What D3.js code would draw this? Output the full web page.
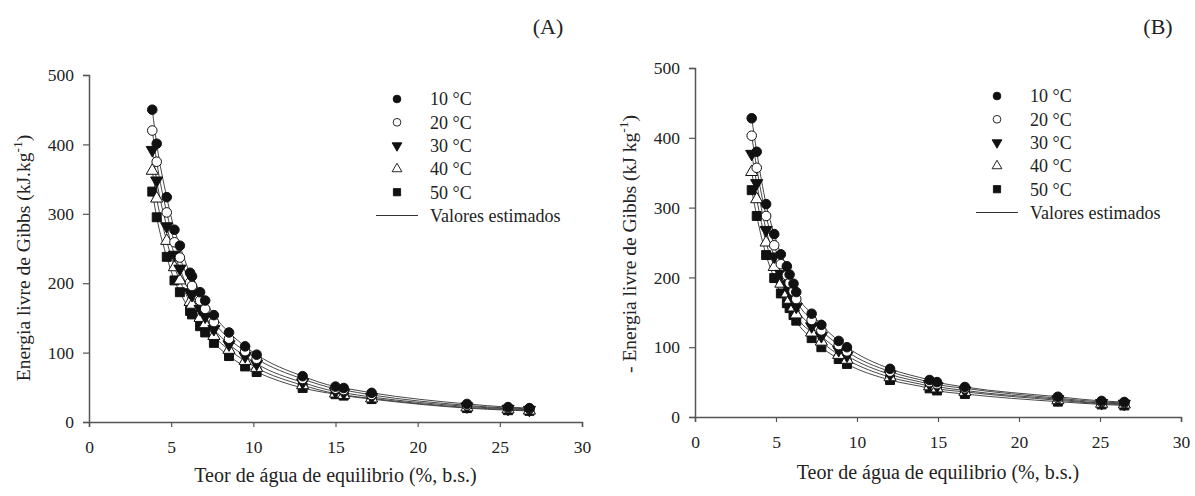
<!DOCTYPE html>
<html>
<head>
<meta charset="utf-8">
<script src="https://cdn.jsdelivr.net/npm/d3@7"></script>
<style>
  body { margin: 0; background: #fff; }
  text { font-family: "Liberation Serif", "Times New Roman", serif; fill: #222; }
</style>
</head>
<body>
<svg id="chart" width="1195" height="496"></svg>
<script>
var width = 1195
var height = 496

// series names (legend)
var seriesNames = ["10 °C", "20 °C", "30 °C", "40 °C", "50 °C"]
var fitLabel = "Valores estimados"
var xTicks = [0, 5, 10, 15, 20, 25, 30]
var yTicks = [0, 100, 200, 300, 400, 500]

// panel A - moisture content (%, b.s.)
var xA = [3.85, 4.12, 4.73, 5.2, 5.53, 6.15, 6.27, 6.76, 7.07, 7.6, 8.52, 9.5, 10.2, 13.0, 15.0, 15.5, 17.2, 23.0, 25.5, 26.8]
var a10 = [450, 401, 324, 277, 254, 215, 210, 187, 175, 154, 129, 109, 97, 66, 51, 49, 42, 26, 21.5, 20]
var a20 = [420, 375, 302, 259, 237, 201, 196, 175, 163, 144, 120, 102, 91, 62, 48, 46, 39, 24, 20, 19]
var a30 = [392, 348, 282, 241, 221, 187, 183, 163, 152, 134, 112, 95, 84, 57, 44, 42, 36, 22.5, 19, 17.5]
var a40 = [362, 322, 261, 223, 204, 173, 169, 150, 141, 124, 104, 88, 78, 53, 41, 39, 34, 21, 18, 16.5]
var a50 = [332, 295, 238, 204, 187, 160, 155, 138, 129, 114, 95, 80, 72, 49, 40, 38, 33, 20, 17, 16]

// panel B
var xB = [3.5, 3.81, 4.39, 4.89, 5.3, 5.67, 5.84, 6.08, 6.25, 7.2, 7.8, 8.87, 9.38, 12.04, 14.48, 14.94, 16.66, 22.4, 25.1, 26.5]
var b10 = [428, 380, 305, 262, 233, 216, 204, 191, 179, 148, 132, 109, 100, 69, 53, 50, 43, 29, 23, 21.5]
var b20 = [403, 357, 288, 246, 219, 203, 192, 180, 169, 139, 124, 103, 94, 65, 50, 47, 41, 27, 21.5, 20]
var b30 = [377, 335, 268, 230, 205, 190, 180, 168, 158, 130, 116, 96, 88, 61, 47, 44, 38, 25.5, 20, 19]
var b40 = [351, 312, 250, 215, 191, 177, 168, 157, 147, 121, 108, 89, 82, 57, 44, 41, 36, 24, 19, 18]
var b50 = [325, 288, 232, 199, 177, 163, 156, 146, 138, 113, 100, 83, 76, 53, 41, 38, 33, 22, 18, 16.5]

var svg = d3.select("#chart")
var axisColor = "#555"

// marker styles per series
var markers = [
    { type: d3.symbolCircle, size: 72, fill: "#111", rot: 0 },
    { type: d3.symbolCircle, size: 72, fill: "#fff", rot: 0 },
    { type: d3.symbolTriangle, size: 64, fill: "#111", rot: 180 },
    { type: d3.symbolTriangle, size: 64, fill: "#fff", rot: 0 },
    { type: d3.symbolSquare, size: 80, fill: "#111", rot: 0 }
]

function drawPanel(opt) {
    var g = svg.append("g")
    var x = d3.scaleLinear().domain([0, 30]).range([opt.left, opt.right])
    var y = d3.scaleLinear().domain([0, 500]).range([opt.bottom, opt.top])

    var xAxis = d3.axisBottom(x).tickValues(xTicks).tickSize(5).tickPadding(14)
    var yAxis = d3.axisLeft(y).tickValues(yTicks).tickSize(6).tickPadding(9)

    var gx = g.append("g")
        .attr("transform", "translate(0," + opt.bottom + ")")
        .call(xAxis)
    var gy = g.append("g")
        .attr("transform", "translate(" + opt.left + ",0)")
        .call(yAxis)
    ;[gx, gy].forEach(function (a) {
        a.select(".domain").attr("stroke", axisColor).attr("stroke-width", 1.5)
        a.selectAll(".tick line").attr("stroke", axisColor).attr("stroke-width", 1.2)
        a.selectAll(".tick text")
            .attr("font-family", "Liberation Serif")
            .attr("font-size", 17.5)
            .attr("fill", "#222")
    })

    // fitted curves
    var line = d3.line()
        .x(function (d) { return x(d[0]) })
        .y(function (d) { return y(d[1]) })
        .curve(d3.curveMonotoneX)
    opt.series.forEach(function (s) {
        var pts = opt.xs.map(function (v, i) { return [v, s[i]] })
        g.append("path")
            .datum(pts)
            .attr("fill", "none")
            .attr("stroke", "#333")
            .attr("stroke-width", 0.9)
            .attr("d", line)
    })

    // observed points (draw warm series first, 10 °C on top)
    for (var k = opt.series.length - 1; k >= 0; k--) {
        var m = markers[k]
        var sym = d3.symbol().type(m.type).size(m.size)
        g.append("g").selectAll("path")
            .data(opt.xs.map(function (v, i) { return [v, opt.series[k][i]] }))
            .enter().append("path")
            .attr("d", sym)
            .attr("transform", function (d) {
                return "translate(" + x(d[0]) + "," + y(d[1]) + ") rotate(" + m.rot + ")"
            })
            .attr("fill", m.fill)
            .attr("stroke", "#111")
            .attr("stroke-width", 1)
    }

    // legend
    var lg = g.append("g")
    seriesNames.forEach(function (name, i) {
        var m = markers[i]
        var yy = opt.legY + i * 23.3
        lg.append("path")
            .attr("d", d3.symbol().type(m.type).size(m.size * 0.65)())
            .attr("transform", "translate(" + opt.legX + "," + yy + ") rotate(" + m.rot + ")")
            .attr("fill", m.fill)
            .attr("stroke", "#111")
            .attr("stroke-width", 0.9)
        lg.append("text")
            .attr("x", opt.legX + 33)
            .attr("y", yy)
            .attr("dy", "0.35em")
            .attr("font-size", 18)
            .text(name)
    })
    var ly = opt.legY + 5 * 23.3
    lg.append("line")
        .attr("x1", opt.legX - 21).attr("x2", opt.legX + 21)
        .attr("y1", ly).attr("y2", ly)
        .attr("stroke", "#333").attr("stroke-width", 1)
    lg.append("text")
        .attr("x", opt.legX + 33)
        .attr("y", ly)
        .attr("dy", "0.35em")
        .attr("font-size", 18)
        .text(fitLabel)

    // axis titles
    g.append("text")
        .attr("x", (opt.left + opt.right) / 2)
        .attr("y", opt.xTitleY)
        .attr("text-anchor", "middle")
        .attr("font-size", 20)
        .text("Teor de água de equilibrio (%, b.s.)")
    var yt = g.append("text")
        .attr("transform", "translate(" + opt.yTitleX + "," + opt.yTitleMid + ") rotate(-90)")
        .attr("text-anchor", "middle")
        .attr("font-size", 19.5)
    yt.append("tspan").text(opt.yTitle)
    yt.append("tspan")
        .attr("dy", -8)
        .attr("font-size", 13.5)
        .text("-1")
    yt.append("tspan")
        .attr("dy", 8)
        .text(")")

    // panel letter
    g.append("text")
        .attr("x", opt.tagX)
        .attr("y", 34)
        .attr("text-anchor", "middle")
        .attr("font-size", 22)
        .text(opt.tag)
}

drawPanel({
    left: 89, right: 582, top: 75, bottom: 422,
    xs: xA, series: [a10, a20, a30, a40, a50],
    legX: 397, legY: 99,
    xTitleY: 482, yTitleX: 30, yTitleMid: 258,
    yTitle: "Energia livre de Gibbs (kJ.kg",
    tag: "(A)", tagX: 548
})

drawPanel({
    left: 695, right: 1181, top: 68, bottom: 417,
    xs: xB, series: [b10, b20, b30, b40, b50],
    legX: 997, legY: 96,
    xTitleY: 479, yTitleX: 636, yTitleMid: 244,
    yTitle: "- Energia livre de Gibbs (kJ kg",
    tag: "(B)", tagX: 1158
})
</script>
</body>
</html>
